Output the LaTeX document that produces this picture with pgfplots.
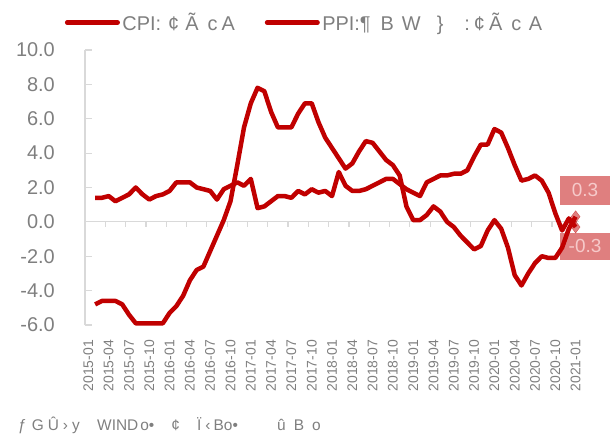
\documentclass[border=0pt]{standalone}
\usepackage{fontspec}
\setmainfont{Liberation Sans}
\usepackage{pgfplots}
\usepackage{pgfplotstable}
\pgfplotsset{compat=1.18}
\definecolor{lred}{HTML}{C00000}
\definecolor{txt}{HTML}{7F7F7F}
\definecolor{axc}{HTML}{D9D9D9}
\definecolor{lbltxt}{HTML}{F6CACA}

\pgfplotstableread{
i cpi ppi
1 1.4 -4.8
2 1.4 -4.6
3 1.5 -4.6
4 1.2 -4.6
5 1.4 -4.8
6 1.6 -5.4
7 2.0 -5.9
8 1.6 -5.9
9 1.3 -5.9
10 1.5 -5.9
11 1.6 -5.9
12 1.8 -5.3
13 2.3 -4.9
14 2.3 -4.3
15 2.3 -3.4
16 2.0 -2.8
17 1.9 -2.6
18 1.8 -1.7
19 1.3 -0.8
20 1.9 0.1
21 2.1 1.2
22 2.3 3.3
23 2.1 5.5
24 2.5 6.9
25 0.8 7.8
26 0.9 7.6
27 1.2 6.4
28 1.5 5.5
29 1.5 5.5
30 1.4 5.5
31 1.8 6.3
32 1.6 6.9
33 1.9 6.9
34 1.7 5.8
35 1.8 4.9
36 1.5 4.3
37 2.9 3.7
38 2.1 3.1
39 1.8 3.4
40 1.8 4.1
41 1.9 4.7
42 2.1 4.6
43 2.3 4.1
44 2.5 3.6
45 2.5 3.3
46 2.2 2.7
47 1.9 0.9
48 1.7 0.1
49 1.5 0.1
50 2.3 0.4
51 2.5 0.9
52 2.7 0.6
53 2.7 0.0
54 2.8 -0.3
55 2.8 -0.8
56 3.0 -1.2
57 3.8 -1.6
58 4.5 -1.4
59 4.5 -0.5
60 5.4 0.1
61 5.2 -0.4
62 4.3 -1.5
63 3.3 -3.1
64 2.4 -3.7
65 2.5 -3.0
66 2.7 -2.4
67 2.4 -2.0
68 1.7 -2.1
69 0.5 -2.1
70 -0.5 -1.5
71 0.2 -0.4
72 -0.3 0.3
}\data

\begin{document}
\begin{tikzpicture}
\path[use as bounding box] (0bp,0bp) rectangle (616bp,434bp);

% zero line with category tick marks
\begin{axis}[
  at={(85bp,109bp)}, anchor=south west,
  scale only axis, width=494bp, height=275bp,
  xmin=-0.5, xmax=72.5, ymin=-6, ymax=10,
  axis x line=middle, axis y line=none,
  x axis line style={draw=axc, line width=1.2bp, -},
  xtick={2.5,5.5,...,71.5}, xticklabels={},
  tick align=center, major tick length=5bp,
  major x tick style={draw=axc, line width=1.2bp, yshift=-2.5bp},
  ytick=\empty,
]
\end{axis}

\begin{axis}[
  at={(85bp,109bp)}, anchor=south west,
  scale only axis, width=494bp, height=275bp,
  xmin=-0.5, xmax=72.5, ymin=-6, ymax=10,
  axis x line*=bottom, axis y line*=left,
  x axis line style={draw=none},
  y axis line style={draw=axc, line width=1.2bp, -},
  xtick={0,3,...,72},
  xticklabels={2015-01,2015-04,2015-07,2015-10,2016-01,2016-04,2016-07,2016-10,2017-01,2017-04,2017-07,2017-10,2018-01,2018-04,2018-07,2018-10,2019-01,2019-04,2019-07,2019-10,2020-01,2020-04,2020-07,2020-10,2021-01},
  major x tick style={draw=none},
  xticklabel style={rotate=90, anchor=east, inner sep=0pt, text=txt, font=\fontsize{14}{14}\selectfont},
  xticklabel shift=15bp,
  ytick={-6,-4,...,10},
  yticklabels={-6.0,-4.0,-2.0,0.0,2.0,4.0,6.0,8.0,10.0},
  yticklabel style={anchor=east, inner sep=0pt, xshift=-30bp, text=txt, font=\fontsize{20}{20}\selectfont},
  tick align=inside, major tick length=7bp,
  major y tick style={draw=axc, line width=1.2bp},
  clip=false,
  legend columns=2,
  legend style={at={(axis description cs:-0.041,1.10)}, anchor=west, draw=none, fill=none,
    inner sep=0pt, font=\fontsize{20}{20}\selectfont, text=txt,
    nodes={inner sep=0pt, inner xsep=2.5bp},
    /tikz/every even column/.append style={column sep=27.5bp}},
  legend image code/.code={\draw[#1, line cap=round] (2.25bp,0bp) -- (52.75bp,0bp);},
]
\addplot[lred, line width=4.5bp, line join=round] table[x=i, y=cpi] {\data};
\addlegendentry{CPI:\hspace{7bp}¢\hspace{6bp}Ã\hspace{9bp}c\hspace{4bp}A}
\addplot[lred, line width=4.5bp, line join=round] table[x=i, y=ppi] {\data};
\addlegendentry{PPI:¶\hspace{10bp}B\hspace{8bp}W\hspace{16bp}\}\hspace{21bp}:\hspace{4bp}¢\hspace{4bp}Ã\hspace{9bp}c\hspace{7.6bp}A}
\addplot[forget plot, only marks, mark=diamond*, mark size=6bp, draw=lred, fill=lred, opacity=0.5] coordinates {(72,0.3) (72,-0.3)};
\node[fill=lred, fill opacity=0.5, text opacity=1, text=lbltxt, minimum width=50bp, minimum height=29bp, inner sep=0pt,
  font=\fontsize{19}{19}\selectfont, xshift=9.4bp, yshift=26.5bp] at (axis cs:72,0.3) {0.3};
\node[fill=lred, fill opacity=0.5, text opacity=1, text=lbltxt, minimum width=50bp, minimum height=27bp, inner sep=0pt,
  font=\fontsize{19}{19}\selectfont, xshift=9.4bp, yshift=-19bp] at (axis cs:72,-0.3) {-0.3};
\end{axis}

\begin{scope}[every node/.style={anchor=base west, inner sep=0pt, text=txt, font=\fontsize{15.5}{15.5}\selectfont}]
\node at (18bp,3.3bp) {ƒ\hspace{5bp}G\hspace{4bp}Û\hspace{4bp}›\hspace{4bp}y};
\node at (97bp,3.3bp) {WIND\hspace{2bp}o•\hspace{17bp}¢};
\node at (197bp,3.3bp) {Ï\hspace{4bp}‹\hspace{3bp}Bo•};
\node at (277bp,3.3bp) {û\hspace{8bp}B\hspace{8bp}o};
\end{scope}
\end{tikzpicture}
\end{document}
